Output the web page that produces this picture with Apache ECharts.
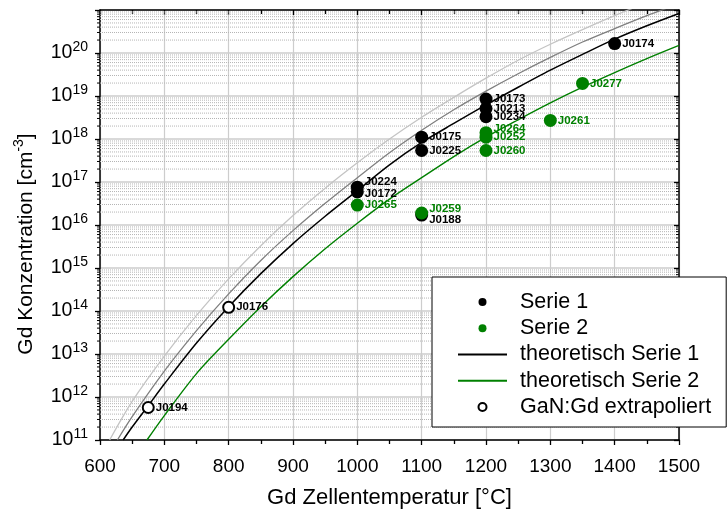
<!DOCTYPE html>
<html>
<head>
<meta charset="utf-8">
<script src="https://cdn.jsdelivr.net/npm/echarts@6/dist/echarts.min.js"></script>
<style>
  html, body { margin: 0; padding: 0; background: #fff; }
  #chart { width: 727px; height: 515px; }
</style>
</head>
<body>
<div id="chart"></div>
<script>
const FONT = '"Liberation Sans", Arial, Helvetica, sans-serif';

// Gd cell temperature (°C) and Gd concentration (cm^-3) along each theoretical curve
const theory1Temps  = [636, 650, 675, 700, 750, 800, 850, 900, 950, 1000, 1050, 1100, 1150, 1200, 1250, 1300, 1350, 1400, 1450, 1500];
const theory1Values = [1.0e11, 2.0e11, 6.3e11, 2.0e12, 1.8e13, 1.26e14, 7.4e14, 3.7e15, 1.6e16, 6.3e16, 2.5e17, 8.3e17, 2.3e18, 6.2e18, 1.6e19, 4.0e19, 9.3e19, 2.1e20, 4.3e20, 8.3e20];

const theory2Temps  = [673, 700, 750, 800, 850, 900, 950, 1000, 1050, 1100, 1150, 1200, 1250, 1300, 1350, 1400, 1450, 1500];
const theory2Values = [1.0e11, 3.7e11, 3.5e12, 2.2e13, 1.26e14, 6.3e14, 2.8e15, 1.1e16, 4.0e16, 1.26e17, 3.9e17, 1.1e18, 2.8e18, 6.9e18, 1.6e19, 3.5e19, 7.4e19, 1.5e20];

const upperTemps  = [627, 650, 700, 750, 800, 850, 900, 950, 1000, 1050, 1100, 1150, 1200, 1250, 1300, 1350, 1400, 1450, 1500];
const upperValues = [1.0e11, 3.5e11, 4.0e12, 3.5e13, 2.5e14, 1.5e15, 7.4e15, 3.2e16, 1.26e17, 4.8e17, 1.6e18, 4.8e18, 1.3e19, 3.3e19, 7.9e19, 1.8e20, 3.7e20, 7.4e20, 1.4e21];

const topTemps  = [615, 650, 700, 750, 800, 850, 900, 950, 1000, 1050, 1100, 1150, 1200, 1250, 1300, 1350, 1400, 1450];
const topValues = [1.0e11, 7.9e11, 8.9e12, 7.9e13, 5.6e14, 3.3e15, 1.66e16, 7.2e16, 2.8e17, 1.0e18, 3.2e18, 9.3e18, 2.6e19, 6.8e19, 1.6e20, 3.5e20, 7.4e20, 1.5e21];

// measured samples
const serie1Names  = ['J0224', 'J0172', 'J0175', 'J0225', 'J0173', 'J0213', 'J0234', 'J0188', 'J0174'];
const serie1Temps  = [1000, 1000, 1100, 1100, 1200, 1200, 1200, 1100, 1400];
const serie1Values = [7.6e16, 5.9e16, 1.1e18, 5.4e17, 8.5e18, 5.1e18, 3.3e18, 1.7e16, 1.66e20];

const serie2Names  = ['J0265', 'J0259', 'J0264', 'J0252', 'J0260', 'J0261', 'J0277'];
const serie2Temps  = [1000, 1100, 1200, 1200, 1200, 1300, 1350];
const serie2Values = [2.9e16, 1.9e16, 1.4e18, 1.1e18, 5.4e17, 2.7e18, 1.96e19];

const extraNames  = ['J0194', 'J0176'];
const extraTemps  = [675, 800];
const extraValues = [5.7e11, 1.22e14];

// axis ranges
const xMin = 600, xMax = 1500, xStep = 100;
const yMinExp = 11, yMaxExp = 21;
const yMin = Math.pow(10, yMinExp), yMax = Math.pow(10, yMaxExp);

// minor log grid: 2..9 within every decade
const minorGridValues = [];
for (let e = yMinExp; e < yMaxExp; e++) {
  for (let m = 2; m <= 9; m++) minorGridValues.push(m * Math.pow(10, e));
}

// vertical nudges for labels of stacked points
const labelNudge = { J0224: -5, J0172: 2, J0264: -4, J0259: -4, J0188: 5 };

const BLACK = '#000000';
const GREEN = '#008000';

function pairs(xs, ys) {
  return xs.map((x, i) => [x, ys[i]]);
}

function points(names, xs, ys) {
  return names.map((n, i) => ({
    name: n,
    value: [xs[i], ys[i]],
    label: { offset: [0, labelNudge[n] || 0] }
  }));
}

function curve(name, xs, ys, color, width) {
  return {
    name: name,
    type: 'line',
    data: pairs(xs, ys),
    showSymbol: false,
    symbol: 'none',
    smooth: 0.3,
    clip: true,
    lineStyle: { color: color, width: width },
    itemStyle: { color: color },
    emphasis: { disabled: true },
    silent: true,
    z: 3
  };
}

function markerLabel(color) {
  return {
    show: true,
    position: 'right',
    distance: 1,
    formatter: '{b}',
    fontFamily: FONT,
    fontSize: 11.5,
    fontWeight: 'bold',
    color: color
  };
}

const axisLineStyle = { color: '#000', width: 1.5 };
const tickStyle = { color: '#000', width: 1.3 };

const chart = echarts.init(document.getElementById('chart'), null, { renderer: 'canvas' });

chart.setOption({
  animation: false,
  backgroundColor: '#fff',
  textStyle: { fontFamily: FONT },
  grid: { left: 100, right: 48, top: 10, bottom: 75, containLabel: false },
  legend: {
    orient: 'vertical',
    left: 432,
    top: 277,
    padding: [14, 15, 9, 25],
    itemWidth: 49,
    itemHeight: 8,
    itemGap: 4.25,
    backgroundColor: '#fff',
    borderColor: '#000',
    borderWidth: 1,
    selectedMode: false,
    textStyle: { fontFamily: FONT, fontSize: 21.5, color: '#000', lineHeight: 22, padding: [0, 0, 0, 8] },
    data: [
      'Serie 1',
      'Serie 2',
      { name: 'theoretisch Serie 1', itemStyle: { opacity: 0, borderWidth: 0 } },
      { name: 'theoretisch Serie 2', itemStyle: { opacity: 0, borderWidth: 0 } },
      'GaN:Gd extrapoliert'
    ],
    z: 20
  },
  xAxis: [
    {
      type: 'value', position: 'bottom',
      min: xMin, max: xMax, interval: xStep,
      axisLine: { lineStyle: axisLineStyle },
      axisTick: { show: true, length: 5, lineStyle: tickStyle },
      minorTick: { show: true, splitNumber: 2, length: 4, lineStyle: tickStyle },
      axisLabel: { color: '#000', fontFamily: FONT, fontSize: 19, margin: 17, formatter: v => String(v) },
      splitLine: { show: true, lineStyle: { color: '#cdcdcd', width: 1.2 } },
      name: 'Gd Zellentemperatur [°C]',
      nameLocation: 'middle',
      nameGap: 47,
      nameTextStyle: { color: '#000', fontFamily: FONT, fontSize: 22 }
    },
    {
      type: 'value', position: 'top',
      min: xMin, max: xMax, interval: xStep,
      axisLine: { lineStyle: axisLineStyle },
      axisTick: { show: true, inside: true, length: 5, lineStyle: tickStyle },
      minorTick: { show: true, splitNumber: 2, length: 4, lineStyle: tickStyle },
      axisLabel: { show: false },
      splitLine: { show: false }
    }
  ],
  yAxis: [
    {
      type: 'log', logBase: 10, position: 'left',
      min: yMin, max: yMax, splitNumber: 10,
      axisLine: { lineStyle: axisLineStyle },
      axisTick: { show: true, length: 5, lineStyle: tickStyle },
      minorTick: { show: false },
      splitLine: { show: true, lineStyle: { color: '#cdcdcd', width: 1.6 } },
      minorSplitLine: { show: false },
      axisLabel: {
        margin: 12,
        formatter: function (v) {
          const e = Math.round(Math.log10(v));
          if (e >= yMaxExp) return '';
          return '{b|10}{s|' + e + '}';
        },
        rich: {
          b: { fontFamily: FONT, fontSize: 19.5, color: '#000', lineHeight: 26 },
          s: { fontFamily: FONT, fontSize: 14, color: '#000', lineHeight: 12, verticalAlign: 'top' }
        }
      },
      name: '{t|Gd Konzentration [cm}{s|-3}{t|]}',
      nameLocation: 'middle',
      nameGap: 60,
      nameTextStyle: {
        padding: [0, 38, 0, 0],
        rich: {
          t: { fontFamily: FONT, fontSize: 21, color: '#000', lineHeight: 28 },
          s: { fontFamily: FONT, fontSize: 14, color: '#000', lineHeight: 12, verticalAlign: 'top' }
        }
      }
    },
    {
      type: 'log', logBase: 10, position: 'right',
      min: yMin, max: yMax, splitNumber: 10,
      axisLine: { lineStyle: axisLineStyle },
      axisTick: { show: true, inside: true, length: 5, lineStyle: tickStyle },
      minorTick: { show: false },
      axisLabel: { show: false },
      splitLine: { show: false }
    }
  ],
  series: [
    {
      // dotted minor grid lines plus minor ticks on the left and right axes
      type: 'custom',
      silent: true,
      clip: false,
      z: 1,
      data: minorGridValues.map(v => [xMin, v]),
      renderItem: function (params, api) {
        const y = api.coord([xMin, api.value(1)])[1];
        const cs = params.coordSys;
        const left = cs.x, right = cs.x + cs.width;
        return {
          type: 'group',
          children: [
            { type: 'line', shape: { x1: left, y1: y, x2: right, y2: y },
              style: { stroke: '#b5b5b5', lineWidth: 1, lineDash: [1, 1] } },
            { type: 'line', shape: { x1: left - 3, y1: y, x2: left, y2: y },
              style: { stroke: '#000', lineWidth: 1 } },
            { type: 'line', shape: { x1: right - 3, y1: y, x2: right, y2: y },
              style: { stroke: '#000', lineWidth: 1 } }
          ]
        };
      }
    },
    curve('', topTemps, topValues, '#c4c4c4', 1.3),
    curve('', upperTemps, upperValues, '#7f7f7f', 1.3),
    curve('theoretisch Serie 1', theory1Temps, theory1Values, BLACK, 1.5),
    curve('theoretisch Serie 2', theory2Temps, theory2Values, GREEN, 1.4),
    {
      name: 'Serie 1',
      type: 'scatter',
      symbol: 'circle',
      symbolSize: 13,
      itemStyle: { color: BLACK, opacity: 1 },
      label: markerLabel(BLACK),
      data: points(serie1Names, serie1Temps, serie1Values),
      z: 5
    },
    {
      name: 'Serie 2',
      type: 'scatter',
      symbol: 'circle',
      symbolSize: 13,
      itemStyle: { color: GREEN, opacity: 1 },
      label: markerLabel(GREEN),
      data: points(serie2Names, serie2Temps, serie2Values),
      z: 6
    },
    {
      name: 'GaN:Gd extrapoliert',
      type: 'scatter',
      symbol: 'circle',
      symbolSize: 11,
      itemStyle: { color: '#fff', borderColor: BLACK, borderWidth: 2, opacity: 1 },
      label: markerLabel(BLACK),
      data: points(extraNames, extraTemps, extraValues),
      z: 6
    }
  ]
});
</script>
</body>
</html>
